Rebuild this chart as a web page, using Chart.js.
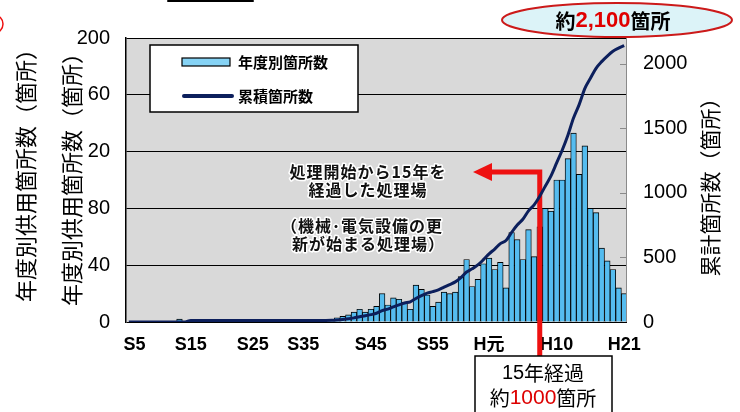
<!DOCTYPE html>
<html>
<head>
<meta charset="utf-8">
<script src="https://cdn.jsdelivr.net/npm/chart.js@4.4.1/dist/chart.umd.min.js"></script>
<style>
  html, body { margin: 0; padding: 0; background: #fff; }
  canvas { display: block; }
</style>
</head>
<body>
<canvas id="chart" width="740" height="412"></canvas>
<script>
// 年度別箇所数: treatment plants starting service, one bar per fiscal year
const yearlyCounts = [
  0, 0, 0, 0, 0, 0, 0, 0, 0, 2,
  0, 0, 0, 0, 0, 0, 0, 0, 0, 0,
  0, 0, 0, 0, 0, 0, 0, 0, 0, 0,
  0, 0, 0, 0, 0, 0, 1, 3, 4, 5,
  7, 9, 7, 9, 11, 20, 12, 17, 16, 14,
  9, 26, 23, 19, 11, 14, 21, 20, 21, 32,
  44, 25, 30, 41, 45, 37, 42, 24, 63, 58,
  44, 65, 46, 67, 80, 78, 100, 100, 115, 133,
  104, 124, 80, 77, 52, 43, 37, 24, 20
];

// 累積箇所数: running total of plants in service
const cumulativeCounts = [
  0, 0, 0, 0, 0, 0, 0, 0, 0, 0,
  0, 12, 12, 12, 12, 12, 12, 12, 12, 12,
  12, 12, 12, 12, 12, 12, 12, 12, 12, 12,
  12, 12, 12, 12, 12, 12, 13, 16, 20, 25,
  32, 41, 48, 57, 68, 88, 100, 117, 133, 147,
  156, 182, 205, 224, 235, 249, 270, 290, 311, 343,
  387, 412, 442, 483, 528, 565, 607, 631, 694, 752,
  796, 861, 907, 974, 1054, 1132, 1232, 1332, 1447, 1580,
  1684, 1808, 1888, 1965, 2017, 2060, 2097, 2121, 2141
];

// era labels printed under the axis, and the bar each one sits under
const eraLabels = ['S5', 'S15', 'S25', 'S35', 'S45', 'S55', 'H元', 'H10', 'H21'];
const eraLabelBars = [1, 11, 22, 31, 43, 54, 64, 76, 88];

// left axis tick text as printed (0 → 200, step 40)
const leftTickText = ['0', '40', '80', '20', '60', '200'];
// right axis tick values
const rightTicks = [0, 500, 1000, 1500, 2000];

const categories = yearlyCounts.map(() => '');
eraLabelBars.forEach((bar, k) => { categories[bar] = eraLabels[k]; });

// plants that passed 15 years of operation by the last year
const yearsElapsed = 15;
const markerBar = yearlyCounts.length - 1 - yearsElapsed;

const FONT_LAT = "'Liberation Sans', 'Noto Sans CJK JP', sans-serif";
const FONT_JP = "'Noto Sans CJK JP', 'Liberation Sans', sans-serif";

const BAR_BLUE = '#55bcef';
const NAVY = '#0c1f5c';
const RED = '#ee1111';

function vText(ctx, text, cx, cy, font) {
  ctx.save();
  ctx.translate(cx, cy);
  ctx.rotate(-Math.PI / 2);
  ctx.font = font;
  ctx.fillStyle = '#000';
  ctx.textAlign = 'center';
  ctx.textBaseline = 'middle';
  ctx.fillText(text, 0, 0);
  ctx.restore();
}

// draw coloured runs of text centred on (cx, cy)
function runs(ctx, parts, cx, cy) {
  ctx.save();
  ctx.textBaseline = 'middle';
  ctx.textAlign = 'left';
  let total = 0;
  parts.forEach(p => { ctx.font = p.font; total += ctx.measureText(p.text).width; });
  let x = cx - total / 2;
  parts.forEach(p => {
    ctx.font = p.font;
    ctx.fillStyle = p.color;
    ctx.fillText(p.text, x, cy);
    x += ctx.measureText(p.text).width;
  });
  ctx.restore();
}

function haloText(ctx, text, x, y, align) {
  ctx.save();
  ctx.font = "bold 16px " + FONT_JP;
  ctx.letterSpacing = '1px';
  ctx.textAlign = align;
  ctx.textBaseline = 'middle';
  ctx.lineJoin = 'round';
  ctx.strokeStyle = '#fff';
  ctx.lineWidth = 3;
  ctx.strokeText(text, x, y);
  ctx.fillStyle = '#111';
  ctx.fillText(text, x, y);
  ctx.restore();
}

const decor = {
  id: 'decor',
  beforeDraw(chart) {
    const { ctx, chartArea: a } = chart;
    ctx.save();
    ctx.fillStyle = '#fff';
    ctx.fillRect(0, 0, chart.width, chart.height);
    ctx.fillStyle = '#d9d9d9';
    ctx.fillRect(a.left, a.top, a.right - a.left, a.bottom - a.top);
    ctx.restore();
  },
  afterDatasetDraw(chart, args) {
    if (args.index !== 0) return;
    // red marker: 15 years before the last year, with arrow to the note
    const { ctx } = chart;
    const x = chart.scales.x.getPixelForValue(markerBar);
    const yArrow = 172;
    ctx.save();
    ctx.strokeStyle = RED;
    ctx.fillStyle = RED;
    ctx.lineWidth = 5;
    ctx.lineCap = 'butt';
    ctx.beginPath();
    ctx.moveTo(x, 357);
    ctx.lineTo(x, yArrow);
    ctx.lineTo(489, yArrow);
    ctx.stroke();
    ctx.beginPath();
    ctx.moveTo(473, yArrow);
    ctx.lineTo(492, yArrow - 9);
    ctx.lineTo(492, yArrow + 9);
    ctx.closePath();
    ctx.fill();
    ctx.restore();
  },
  afterDraw(chart) {
    const { ctx, chartArea: a } = chart;
    const y1 = chart.scales.y1;
    ctx.save();

    // right edge of the plot and small inner ticks of the right axis
    ctx.strokeStyle = '#8a8a8a';
    ctx.lineWidth = 1;
    ctx.beginPath();
    ctx.moveTo(a.right - 0.5, a.top);
    ctx.lineTo(a.right - 0.5, a.bottom);
    rightTicks.slice(1).forEach(v => {
      const y = Math.round(y1.getPixelForValue(v)) + 0.5;
      ctx.moveTo(a.right - 7, y);
      ctx.lineTo(a.right, y);
    });
    ctx.stroke();

    // legend
    ctx.fillStyle = '#fff';
    ctx.fillRect(150, 45, 208, 67);
    ctx.strokeStyle = '#000';
    ctx.lineWidth = 1.5;
    ctx.strokeRect(150, 45, 208, 67);
    ctx.fillStyle = '#86d3f5';
    ctx.fillRect(182, 58, 48, 8);
    ctx.lineWidth = 1.2;
    ctx.strokeRect(182, 58, 48, 8);
    ctx.strokeStyle = NAVY;
    ctx.lineWidth = 4;
    ctx.lineCap = 'round';
    ctx.beginPath();
    ctx.moveTo(184, 96);
    ctx.lineTo(232, 96);
    ctx.stroke();
    ctx.fillStyle = '#000';
    ctx.font = "bold 15px " + FONT_JP;
    ctx.textAlign = 'left';
    ctx.textBaseline = 'middle';
    ctx.fillText('年度別箇所数', 238, 62);
    ctx.fillText('累積箇所数', 238, 96);

    // note beside the arrow
    haloText(ctx, '処理開始から15年を', 368, 172, 'center');
    haloText(ctx, '経過した処理場', 368, 190, 'center');
    haloText(ctx, '（機械･電気設備の更', 281, 226, 'left');
    haloText(ctx, '新が始まる処理場）', 292, 244, 'left');

    // box under the marker
    ctx.fillStyle = '#fff';
    ctx.fillRect(475, 356, 137, 70);
    ctx.strokeStyle = '#000';
    ctx.lineWidth = 1.5;
    ctx.strokeRect(475, 356, 137, 70);
    runs(ctx, [
      { text: '15', font: "20px " + FONT_LAT, color: '#000' },
      { text: '年経過', font: "20px " + FONT_JP, color: '#000' }
    ], 543, 373);
    runs(ctx, [
      { text: '約', font: "20px " + FONT_JP, color: '#000' },
      { text: '1000', font: "21px " + FONT_LAT, color: '#dd0000' },
      { text: '箇所', font: "20px " + FONT_JP, color: '#000' }
    ], 543, 398);

    // total callout
    ctx.beginPath();
    ctx.ellipse(617, 20, 115, 17, 0, 0, Math.PI * 2);
    ctx.fillStyle = '#dcf3f8';
    ctx.fill();
    ctx.strokeStyle = '#cc1a1a';
    ctx.lineWidth = 2;
    ctx.stroke();
    runs(ctx, [
      { text: '約', font: "bold 20px " + FONT_JP, color: '#000' },
      { text: '2,100', font: "bold 22px " + FONT_LAT, color: '#e00000' },
      { text: '箇所', font: "bold 20px " + FONT_JP, color: '#000' }
    ], 613, 21);

    // axis titles
    vText(ctx, '年度別供用箇所数（箇所）', 26, 170, "22px " + FONT_JP);
    vText(ctx, '年度別供用箇所数（箇所）', 72, 174, "22px " + FONT_JP);
    vText(ctx, '累計箇所数（箇所）', 710, 182, "21px " + FONT_JP);

    // heading rule at the top edge and red mark at the left edge
    ctx.strokeStyle = '#000';
    ctx.lineWidth = 2;
    ctx.beginPath();
    ctx.moveTo(168, 1);
    ctx.lineTo(253, 1);
    ctx.stroke();
    ctx.strokeStyle = RED;
    ctx.lineWidth = 1.5;
    ctx.beginPath();
    ctx.arc(-6, 24, 9, -Math.PI / 2, Math.PI / 2);
    ctx.stroke();

    ctx.restore();
  }
};

new Chart(document.getElementById('chart'), {
  data: {
    labels: categories,
    datasets: [
      {
        type: 'bar',
        label: '年度別箇所数',
        data: yearlyCounts,
        yAxisID: 'y',
        backgroundColor: BAR_BLUE,
        borderColor: '#000',
        borderWidth: 0.9,
        barPercentage: 1,
        categoryPercentage: 1,
        order: 2
      },
      {
        type: 'line',
        label: '累積箇所数',
        data: cumulativeCounts,
        yAxisID: 'y1',
        borderColor: NAVY,
        borderWidth: 3,
        pointRadius: 0,
        cubicInterpolationMode: 'monotone',
        order: 1
      }
    ]
  },
  options: {
    responsive: false,
    devicePixelRatio: 1,
    animation: false,
    layout: { padding: { top: 38, left: 0, right: 0, bottom: 0 } },
    plugins: { legend: { display: false }, tooltip: { enabled: false } },
    scales: {
      x: {
        offset: true,
        grid: { display: false },
        border: { display: false },
        ticks: {
          autoSkip: false,
          maxRotation: 0,
          minRotation: 0,
          padding: 4,
          color: '#000',
          font: { family: FONT_LAT, size: 18, weight: 'bold' }
        },
        afterFit(scale) { scale.height = 90; }
      },
      y: {
        position: 'left',
        min: 0,
        max: 200,
        z: 1,
        ticks: {
          stepSize: 40,
          padding: 16,
          color: '#000',
          font: { family: FONT_LAT, size: 20 },
          callback: (v, i) => leftTickText[i]
        },
        grid: { color: '#000', lineWidth: 1, drawTicks: false },
        border: { display: true, color: '#000', width: 1.5 },
        afterFit(scale) { scale.width = 126; }
      },
      y1: {
        position: 'right',
        min: 0,
        max: 2200,
        ticks: {
          padding: 16,
          color: '#000',
          font: { family: FONT_LAT, size: 20 },
          callback: v => String(v)
        },
        afterBuildTicks(scale) {
          scale.ticks = rightTicks.map(v => ({ value: v }));
        },
        grid: { display: false, drawTicks: false },
        border: { display: false },
        afterFit(scale) { scale.width = 113; }
      }
    }
  },
  plugins: [decor]
});
</script>
</body>
</html>
